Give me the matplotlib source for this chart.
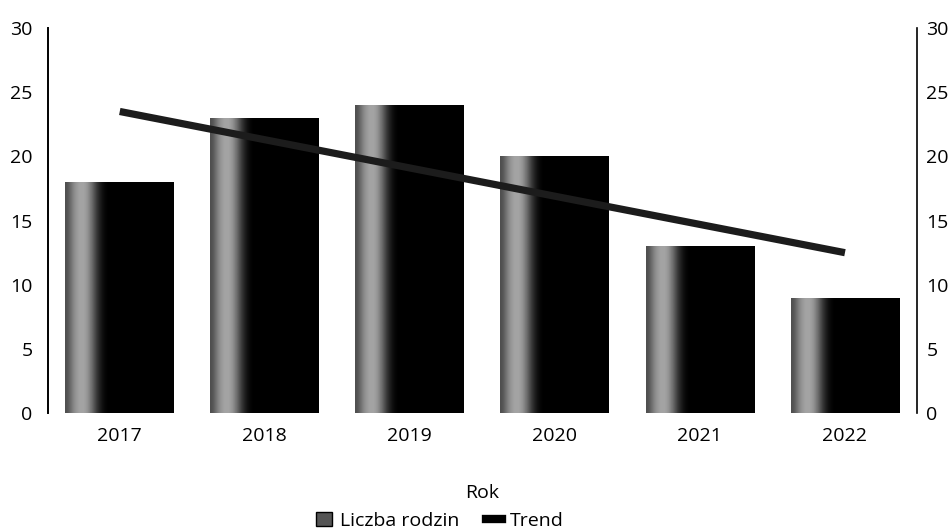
import numpy as np
import matplotlib
matplotlib.use("Agg")
from matplotlib import pyplot as plt
from matplotlib.patches import Patch
from matplotlib.lines import Line2D

plt.rcParams['font.family'] = ['Open Sans', 'DejaVu Sans']

# data
years = ['2017', '2018', '2019', '2020', '2021', '2022']
families = [18, 23, 24, 20, 13, 9]
trend_years = [0, 5]          # line runs from 2017 to 2022
trend_values = [23.5, 12.5]

fig = plt.figure(figsize=(9.5, 5.29), dpi=100)
ax = fig.add_axes([0.0505, 0.219, 0.9145, 0.728])

x = np.arange(len(years))
bars = ax.bar(x, families, width=0.75, color='black', zorder=2)

# grey-to-black gradient inside each bar (scanned look)
prof = np.array([0.30, 0.50, 0.62, 0.66, 0.60, 0.42, 0.20, 0.06, 0.0, 0.0, 0.0,
                 0.0, 0.0, 0.0, 0.0, 0.0, 0.0, 0.0, 0.0, 0.0, 0.0, 0.0])
grad = np.tile(prof, (2, 1))
for b in bars:
    x0, w, h = b.get_x(), b.get_width(), b.get_height()
    im = ax.imshow(grad, cmap='gray', vmin=0, vmax=1, aspect='auto',
                   extent=[x0, x0 + w, 0, h], interpolation='bicubic', zorder=3)
    im.set_clip_path(b)

ax.plot(trend_years, trend_values, color='#1c1c1c', lw=5.2,
        solid_capstyle='butt', zorder=4)

ax.set_xlim(-0.495, 5.495)
ax.set_ylim(0, 30)
ax.set_yticks([0, 5, 10, 15, 20, 25, 30])
ax.set_xticks(x)
ax.set_xticklabels(years)
ax.tick_params(axis='y', length=0, pad=11, labelsize=14)
ax.tick_params(axis='x', length=0, pad=10, labelsize=14)
ax.set_xlabel('Rok', fontsize=14, labelpad=28)

for s in ['top', 'right', 'bottom']:
    ax.spines[s].set_visible(False)
ax.spines['left'].set_linewidth(1.4)

ax2 = ax.twinx()
ax2.set_ylim(0, 30)
ax2.set_yticks([0, 5, 10, 15, 20, 25, 30])
ax2.tick_params(axis='y', length=0, pad=7, labelsize=14)
for s in ['top', 'left', 'bottom']:
    ax2.spines[s].set_visible(False)
ax2.spines['right'].set_linewidth(1.2)

handles = [Patch(facecolor='#555555', edgecolor='black', label='Liczba rodzin'),
           Line2D([0], [0], color='black', lw=6, label='Trend')]
fig.legend(handles=handles, loc='lower center', bbox_to_anchor=(0.463, -0.035),
           ncol=2, frameon=False, fontsize=14, handlelength=0.8,
           handletextpad=0.4, columnspacing=1.4)

fig.savefig('out.png', dpi=100)
